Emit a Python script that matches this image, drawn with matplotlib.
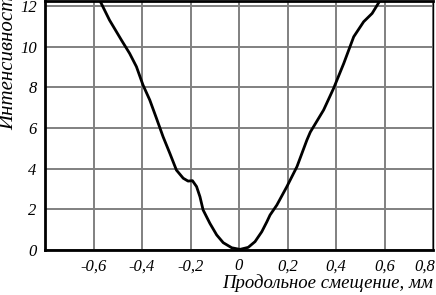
import matplotlib
matplotlib.use("Agg")
import matplotlib.pyplot as plt
import matplotlib.transforms as mtransforms

x_vals = [-0.575, -0.534, -0.485, -0.451, -0.423, -0.396, -0.368, -0.341, -0.313, -0.285,
          -0.258, -0.230, -0.210, -0.192, -0.175, -0.161, -0.148, -0.120, -0.092, -0.065,
          -0.030, 0.004, 0.038, 0.066, 0.094, 0.115, 0.128, 0.156, 0.197, 0.239,
          0.280, 0.294, 0.349, 0.390, 0.432, 0.473, 0.514, 0.549, 0.583]
y_vals = [12.3, 11.31, 10.33, 9.67, 9.02, 8.12, 7.38, 6.5, 5.57, 4.75,
          3.93, 3.53, 3.39, 3.41, 3.12, 2.62, 1.97, 1.31, 0.74, 0.36,
          0.11, 0.03, 0.13, 0.41, 0.90, 1.39, 1.72, 2.21, 3.11, 4.10,
          5.41, 5.80, 6.89, 7.95, 9.18, 10.49, 11.23, 11.64, 12.3]
x_ticks = [-0.6, -0.4, -0.2, 0, 0.2, 0.4, 0.6, 0.8]
x_tick_labels = ["-0,6", "-0,4", "-0,2", "0", "0,2", "0,4", "0,6", "0,8"]
y_ticks = [0, 2, 4, 6, 8, 10, 12]
y_tick_labels = ["0", "2", "4", "6", "8", "10", "12"]
x_label = "Продольное смещение, мм"
y_label = "Интенсивность"

W, H = 436, 295
fig = plt.figure(figsize=(W / 100, H / 100), dpi=100)
ax = fig.add_axes([45 / W, 1 - 250 / H, (433 - 45) / W, (250 - 1) / H])
ax.set_xlim(-0.8, 0.8)
ax.set_ylim(0, 12.25)

ax.grid(True, color="#808080", linewidth=1.4)
ax.set_axisbelow(True)
ax.plot(x_vals, y_vals, color="black", linewidth=2.0, solid_capstyle="round",
        solid_joinstyle="round", zorder=3)

ax.set_xticks(x_ticks)
ax.set_xticklabels(x_tick_labels)
ax.set_yticks(y_ticks)
ax.set_yticklabels(y_tick_labels)
ax.tick_params(length=0, pad=6)
for lab in ax.get_xticklabels() + ax.get_yticklabels():
    lab.set_fontfamily("Liberation Serif")
    lab.set_fontstyle("italic")
    lab.set_fontsize(12)
last = ax.get_xticklabels()[-1]
last.set_transform(last.get_transform() + mtransforms.ScaledTranslation(-8 / 100, 0, fig.dpi_scale_trans))

for side in ["left", "bottom"]:
    ax.spines[side].set_linewidth(2.0)
ax.spines["top"].set_linewidth(2.0)
ax.spines["right"].set_linewidth(1.0)

fig.text(433 / W, 1 - 283 / H, x_label, ha="right", va="center",
         fontfamily="Liberation Serif", fontstyle="italic", fontsize=13.5)
fig.text(9 / W, 1 - 130 / H, y_label, ha="center", va="bottom", rotation=90,
         fontfamily="Liberation Serif", fontstyle="italic", fontsize=15)

fig.savefig("out.png", dpi=100)
